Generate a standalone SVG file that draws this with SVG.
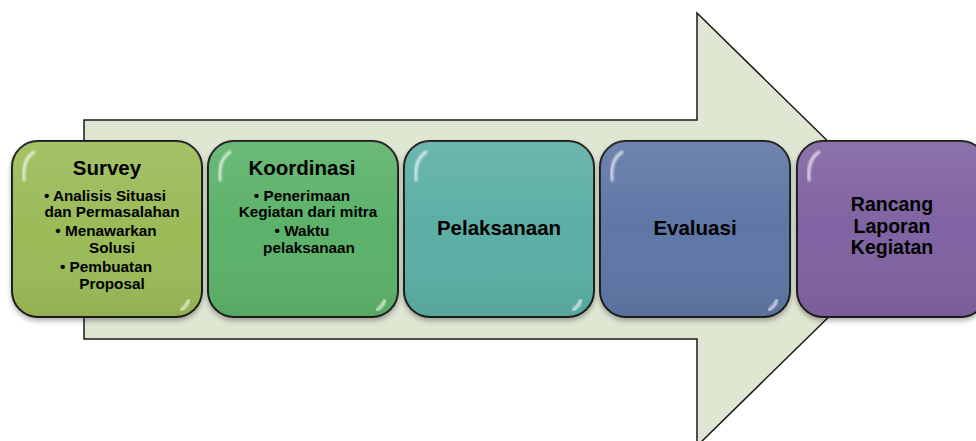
<svg xmlns="http://www.w3.org/2000/svg" width="976" height="441" viewBox="0 0 976 441">
<defs>
<style>
.box{stroke:#1a1a1a;stroke-width:2;filter:url(#sh)}
.hl{fill:none;stroke:#fff;stroke-linecap:round;opacity:0.75}
.t{font-family:"Liberation Sans",Arial,sans-serif;font-weight:bold;fill:#000;text-anchor:middle}
.h{font-size:20.5px}
.r{font-size:19.5px}
.b{font-size:15.3px}
</style>
<filter id="sh" x="-10%" y="-10%" width="120%" height="125%">
<feDropShadow dx="0" dy="3" stdDeviation="2.5" flood-color="#000" flood-opacity="0.3"/>
</filter>
<filter id="bl"><feGaussianBlur stdDeviation="0.8"/></filter>
<linearGradient id="gloss" x1="0" y1="0" x2="0" y2="1">
<stop offset="0" stop-color="#fff" stop-opacity="0.1"/>
<stop offset="0.5" stop-color="#fff" stop-opacity="0"/>
<stop offset="1" stop-color="#000" stop-opacity="0.06"/>
</linearGradient>
</defs>
<rect width="976" height="441" fill="#fff"/>
<g id="arrow">
<path d="M84,120 L697,120 L697,13 L918,229.5 L697,446 L697,339 L84,339 Z" fill="#dfe6d2" stroke="#1a1a1a" stroke-width="1.5"/>
</g>
<g id="connectors"></g>
<g id="survey">
<rect class="box" x="12" y="141" width="190" height="176" rx="26" fill="#9bbb59"/>
<rect x="12" y="141" width="190" height="176" rx="26" fill="url(#gloss)"/>
<path class="hl" filter="url(#bl)" d="M24,180 Q22,160 34,152" stroke-width="3"/>
<path class="hl" filter="url(#bl)" d="M190,172 L190,298" stroke-width="2.5"/>
<path class="hl" filter="url(#bl)" d="M189,300 Q187,306 181,310" stroke-width="3"/>
<text class="t h" x="107" y="175">Survey</text>
<text class="t b" x="105" y="201">• Analisis Situasi</text>
<text class="t b" x="112" y="217">dan Permasalahan</text>
<text class="t b" x="106" y="236">• Menawarkan</text>
<text class="t b" x="112" y="253">Solusi</text>
<text class="t b" x="106" y="272">• Pembuatan</text>
<text class="t b" x="112" y="289">Proposal</text>
</g>
<g id="koordinasi">
<rect class="box" x="208" y="141" width="190" height="176" rx="26" fill="#5bb26a"/>
<rect x="208" y="141" width="190" height="176" rx="26" fill="url(#gloss)"/>
<path class="hl" filter="url(#bl)" d="M220,180 Q218,160 230,152" stroke-width="3"/>
<path class="hl" filter="url(#bl)" d="M386,172 L386,298" stroke-width="2.5"/>
<path class="hl" filter="url(#bl)" d="M385,300 Q383,306 377,310" stroke-width="3"/>
<text class="t h" x="302" y="175">Koordinasi</text>
<text class="t b" x="302" y="201">• Penerimaan</text>
<text class="t b" x="308" y="217">Kegiatan dari mitra</text>
<text class="t b" x="302" y="236">• Waktu</text>
<text class="t b" x="309" y="253">pelaksanaan</text>
</g>
<g id="pelaksanaan">
<rect class="box" x="404" y="141" width="190" height="176" rx="26" fill="#5bafa5"/>
<rect x="404" y="141" width="190" height="176" rx="26" fill="url(#gloss)"/>
<path class="hl" filter="url(#bl)" d="M416,180 Q414,160 426,152" stroke-width="3"/>
<path class="hl" filter="url(#bl)" d="M582,172 L582,298" stroke-width="2.5"/>
<path class="hl" filter="url(#bl)" d="M581,300 Q579,306 573,310" stroke-width="3"/>
<text class="t h" x="499" y="235">Pelaksanaan</text>
</g>
<g id="evaluasi">
<rect class="box" x="600" y="141" width="190" height="176" rx="26" fill="#5f77a6"/>
<rect x="600" y="141" width="190" height="176" rx="26" fill="url(#gloss)"/>
<path class="hl" filter="url(#bl)" d="M612,180 Q610,160 622,152" stroke-width="3"/>
<path class="hl" filter="url(#bl)" d="M778,172 L778,298" stroke-width="2.5"/>
<path class="hl" filter="url(#bl)" d="M777,300 Q775,306 769,310" stroke-width="3"/>
<text class="t h" x="695" y="235">Evaluasi</text>
</g>
<g id="rancang">
<rect class="box" x="797" y="141" width="190" height="176" rx="26" fill="#8064a2"/>
<rect x="797" y="141" width="190" height="176" rx="26" fill="url(#gloss)"/>
<path class="hl" filter="url(#bl)" d="M809,180 Q807,160 819,152" stroke-width="3"/>
<text class="t r" x="892" y="211">Rancang</text>
<text class="t r" x="892" y="232.5">Laporan</text>
<text class="t r" x="892" y="254">Kegiatan</text>
</g>
</svg>
